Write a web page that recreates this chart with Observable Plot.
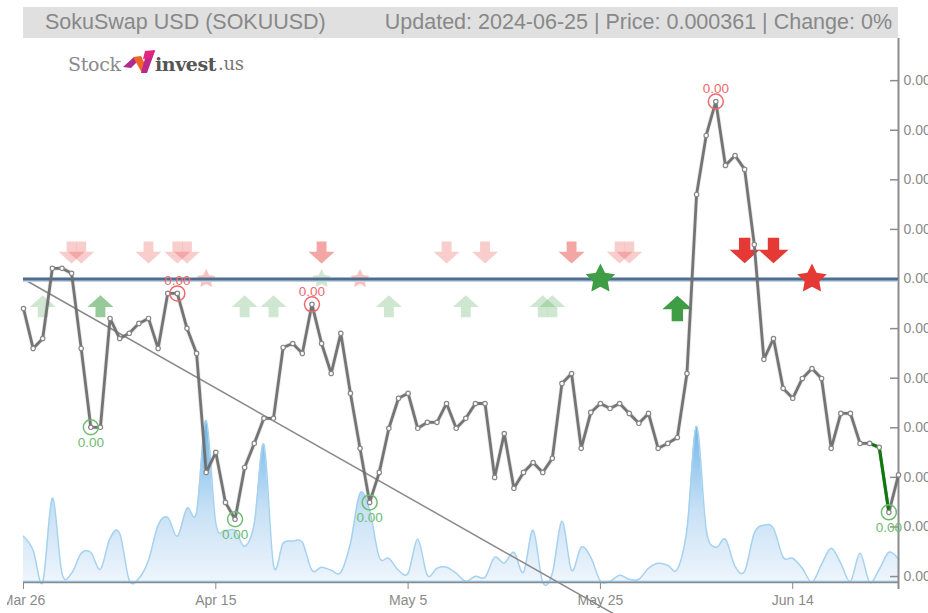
<!DOCTYPE html>
<html>
<head>
<meta charset="utf-8">
<script src="https://cdn.jsdelivr.net/npm/d3@7"></script>
<script src="https://cdn.jsdelivr.net/npm/@observablehq/plot@0.6"></script>
<style>
html,body{margin:0;padding:0;background:#fff;overflow:hidden}
#wrap{position:relative;width:928px;height:613px;overflow:hidden;font-family:"Liberation Sans",Arial,sans-serif}
#bar{position:absolute;left:23px;top:7px;width:875px;height:31px;background:#e0e0e0;color:#888;font-size:21.5px;line-height:31px;white-space:nowrap}
#bar .l{position:absolute;left:22px}
#bar .r{position:absolute;right:6px}
#logo{position:absolute;left:68px;top:48px;width:190px;height:30px}
#logo span{position:absolute;top:3px;font-family:"DejaVu Serif",serif;line-height:26px}
#mask{position:absolute;left:0;top:590px;width:7px;height:22px;background:#fff}
#chart{position:absolute;left:0;top:0}
</style>
</head>
<body>
<div id="wrap">
  <div id="bar"><span class="l">SokuSwap USD (SOKUUSD)</span><span class="r">Updated: 2024-06-25 | Price: 0.000361 | Change: 0%</span></div>
  <div id="logo">
    <span style="left:0;color:#8a8a8a;font-size:19px;letter-spacing:-.3px">Stock</span>
    <svg width="34" height="26" viewBox="0 0 34 26" style="position:absolute;left:55px;top:1px">
      <polygon points="0,18 11,8 19,8 8,19" fill="#b02a8f"/>
      <polygon points="10,8 18,7 24,19 19,24" fill="#f0652a"/>
      <polygon points="18,24 24,24 32,2 24,2" fill="#b92a8c"/>
      <polygon points="22,2 32,1 29,9 20,10" fill="#e2277f"/>
    </svg>
    <span style="left:87px;color:#555;font-weight:bold;font-size:19px;letter-spacing:-.4px">invest</span>
    <span style="left:150px;color:#777;font-size:18px;letter-spacing:-.3px">.us</span>
  </div>
  <div id="chart"></div>
  <div id="mask"></div>
</div>
<script>
// Daily close, in millionths of a USD, from 2024-03-26 to 2024-06-25
const priceMicro = [
428.1,412.0,416.0,444.3,444.3,442.3,412.0,380.2,380.2,424.1,
416.0,418.1,422.1,424.1,412.0,434.2,434.2,420.1,410.0,362.0,
370.1,349.9,343.1,364.0,373.7,383.8,383.8,412.4,414.0,410.0,
429.8,414.0,401.9,418.1,393.9,371.7,349.9,362.0,379.8,391.9,
393.9,379.8,382.2,382.2,389.8,379.8,383.8,389.8,389.8,360.0,
377.7,355.6,362.0,366.0,362.0,367.7,397.9,401.9,371.7,386.2,
389.8,387.8,389.8,385.8,381.8,385.8,371.7,373.7,376.1,401.9,
474.1,497.9,511.6,485.8,489.8,484.2,453.9,407.6,416.0,395.9,
391.9,399.9,403.9,399.9,371.7,385.8,385.8,373.7,373.7,372.1,
345.9,361.0];
// Daily volume, arbitrary units
const volumes = [
46,32,0,84,9,9,29,30,13,44,
49,2,4,22,57,65,46,74,70,162,
59,52,52,36,59,138,17,39,41,40,
12,15,12,10,39,89,72,25,24,12,
9,43,7,14,15,9,1,6,5,25,
19,30,10,52,0,9,61,12,35,25,
1,1,7,3,3,14,19,17,13,53,
156,53,35,43,16,11,49,57,54,25,
24,14,0,18,34,19,1,29,0,13,
30,23];
const redCircles = [16,30,72];
const greenCircles = [7,22,36,90];
const weakDown = [5,6,13,16,17,44,48,62,63];
const midDown = [31,57];
const strongDown = [75,78];
const weakUp = [2,23,26,38,46,54,55];
const midUp = [8];
const strongUp = [68];
const weakRedStars = [19,35];
const weakGreenStars = [31];
const strongGreenStars = [60];
const strongRedStars = [82];
const priceTicks = [0.00032,0.00034,0.00036,0.00038,0.0004,0.00042,0.00044,0.00046,0.00048,0.0005,0.00052];
const dateTicks = ["2024-03-26","2024-04-15","2024-05-05","2024-05-25","2024-06-14"];
const resistance = 0.00044;
const trendEnd = {day: 62, micro: 303.6};
const axisBottomMicro = 314.8, axisTopMicro = 537, volumeBaseMicro = 317.7, volumeUnitMicro = 0.4032;

const start = Date.UTC(2024,2,26);
const day = i => new Date(start + i*864e5);
const price = priceMicro.map((v,i)=>({date:day(i),i,p:v*1e-6}));
const vol = volumes.map((v,i)=>({date:day(i),y1:volumeBaseMicro*1e-6,y2:(volumeBaseMicro+v*volumeUnitMicro)*1e-6}));
const at = idx => idx.map(i=>price[i]);

const arrowDown = {draw(c,size){const r=Math.sqrt(size/Math.PI);
  c.moveTo(-.38*r,-.85*r);c.lineTo(.38*r,-.85*r);c.lineTo(.38*r,-.05*r);c.lineTo(r,-.05*r);c.lineTo(0,.85*r);c.lineTo(-r,-.05*r);c.lineTo(-.38*r,-.05*r);c.closePath();}};
const arrowUp = {draw(c,size){const r=Math.sqrt(size/Math.PI);
  c.moveTo(-.38*r,.85*r);c.lineTo(.38*r,.85*r);c.lineTo(.38*r,.05*r);c.lineTo(r,.05*r);c.lineTo(0,-.85*r);c.lineTo(-r,.05*r);c.lineTo(-.38*r,.05*r);c.closePath();}};
const fatStar = {draw(c,size){const r=Math.sqrt(size/Math.PI);
  for(let k=0;k<10;k++){const a=-Math.PI/2+k*Math.PI/5,q=k%2?r*.5:r;
    const px=q*Math.cos(a),py=q*Math.sin(a);k?c.lineTo(px,py):c.moveTo(px,py);}c.closePath();}};

const RED="#e53935", GREEN="#3f9e45";
const sig=(idx,level,symbol,r,fill,op)=>Plot.dot(idx.map(i=>({date:day(i),y:level*1e-6})),{x:"date",y:"y",symbol,r,fill,fillOpacity:op,stroke:"none"});

const gradient = () => {
  const d=d3.create("svg:defs");
  const g=d.append("linearGradient").attr("id","volgrad").attr("x1",0).attr("x2",0).attr("y1",0).attr("y2",1);
  g.append("stop").attr("offset","0%").attr("stop-color","#6db3e6");
  g.append("stop").attr("offset","30%").attr("stop-color","#a0cdf0");
  g.append("stop").attr("offset","55%").attr("stop-color","#c8e1f5");
  g.append("stop").attr("offset","100%").attr("stop-color","#f0f6fd");
  return d.node();
};

const chart = Plot.plot({
  width:928,height:613,
  marginLeft:23,marginRight:30,marginTop:38,marginBottom:30,
  style:{fontFamily:"'Liberation Sans',Arial,sans-serif",fontSize:"14px",background:"transparent"},
  x:{type:"utc",domain:[day(0),day(91)]},
  y:{domain:[axisBottomMicro*1e-6+2.4e-6,axisTopMicro*1e-6]},
  marks:[
    gradient,
    Plot.areaY(vol,{x:"date",y1:"y1",y2:"y2",curve:"cardinal",fill:"url(#volgrad)"}),
    Plot.line(vol,{x:"date",y:"y2",curve:"cardinal",stroke:"#a6d2f0",strokeWidth:1.5}),
    Plot.ruleY([volumeBaseMicro*1e-6],{stroke:"#8c8c8c",strokeWidth:2}),
    Plot.ruleY([volumeBaseMicro*1e-6],{stroke:"#8cc0e8",strokeWidth:1,dy:-1}),
    Plot.ruleX([day(91)],{y1:axisBottomMicro*1e-6,y2:axisTopMicro*1e-6,stroke:"#8c8c8c",strokeWidth:2}),
    Plot.tickY(priceTicks,{stroke:"#8c8c8c",strokeWidth:1.5,insetLeft:867}),
    Plot.axisY({anchor:"right",ticks:priceTicks,tickFormat:".2f",tickSize:0,tickPadding:5,color:"#8a8a8a",label:null,fontSize:14}),
    Plot.axisX({ticks:dateTicks.map(d=>new Date(d)),tickFormat:d3.utcFormat("%b %-d"),tickSize:6,tickPadding:6,color:"#8a8a8a",label:null,fontSize:14}),
    Plot.line([{date:day(0),p:resistance},{date:day(trendEnd.day),p:trendEnd.micro*1e-6}],{x:"date",y:"p",stroke:"#8a8a8a",strokeWidth:1.5}),
    sig(weakRedStars,440,fatStar,10,RED,.3),
    sig(weakGreenStars,440,fatStar,10,GREEN,.25),
    Plot.ruleY([resistance],{x1:day(0),x2:day(91),stroke:"#c3d2e2",strokeWidth:4,dy:1}),
    Plot.ruleY([resistance],{x1:day(0),x2:day(91),stroke:"#4f6d8f",strokeWidth:3}),
    sig(weakDown,450.7,arrowDown,13,RED,.25),
    sig(midDown,450.7,arrowDown,13,RED,.45),
    sig(strongDown,451.5,arrowDown,15,RED,1),
    sig(weakUp,429,arrowUp,13,GREEN,.25),
    sig(midUp,429,arrowUp,13,GREEN,.55),
    sig(strongUp,428.1,arrowUp,15,GREEN,1),
    sig(strongGreenStars,440,fatStar,15.5,GREEN,1),
    sig(strongRedStars,440,fatStar,15.5,RED,1),
    Plot.line(price,{x:"date",y:"p",stroke:"#6e6e6e",strokeWidth:4.5,strokeOpacity:.15}),
    Plot.line(price,{x:"date",y:"p",stroke:"#6e6e6e",strokeWidth:2.8,strokeOpacity:.95}),
    Plot.line(price.slice(88,91),{x:"date",y:"p",stroke:"#0b7a0b",strokeWidth:3}),
    Plot.dot(price,{x:"date",y:"p",r:2.2,fill:"#fff",stroke:"#888",strokeWidth:1.2}),
    Plot.dot(at(redCircles),{x:"date",y:"p",r:7.5,stroke:"#f0686c",strokeWidth:1.5,fill:"none"}),
    Plot.dot(at(greenCircles),{x:"date",y:"p",r:7.5,stroke:"#6dbb70",strokeWidth:1.5,fill:"none"}),
    Plot.text(at(redCircles),{x:"date",y:"p",text:d=>d3.format(".2f")(d.p),dy:-13,fill:"#f0686c",fontSize:13.5}),
    Plot.text(at(greenCircles),{x:"date",y:"p",text:d=>d3.format(".2f")(d.p),dy:15,fill:"#6dbb70",fontSize:13.5})
  ]
});
document.getElementById("chart").appendChild(chart);
</script>
</body>
</html>
